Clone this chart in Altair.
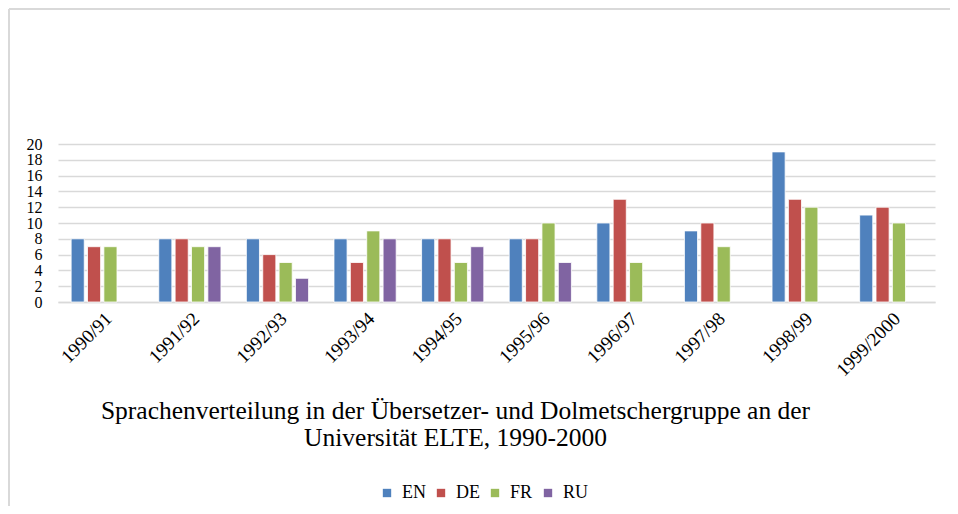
import altair as alt
import pandas as pd

years = ["1990/91", "1991/92", "1992/93", "1993/94", "1994/95",
         "1995/96", "1996/97", "1997/98", "1998/99", "1999/2000"]
languages = ["EN", "DE", "FR", "RU"]
en = [8, 8, 8, 8, 8, 8, 10, 9, 19, 11]
de = [7, 8, 6, 5, 8, 8, 13, 10, 13, 12]
fr = [7, 7, 5, 9, 5, 10, 5, 7, 12, 10]
ru = [None, 7, 3, 8, 7, 5, None, None, None, None]
colors = ["#4F81BD", "#C0504D", "#9BBB59", "#8064A2"]
title_lines = ["Sprachenverteilung in der Übersetzer- und Dolmetschergruppe an der",
               "Universität ELTE, 1990-2000"]

rows = []
for lang, vals in zip(languages, [en, de, fr, ru]):
    for y, v in zip(years, vals):
        if v is not None:
            rows.append({"Jahr": y, "Sprache": lang, "Anzahl": v})
df = pd.DataFrame(rows)

FONT = "Liberation Serif"

bars = alt.Chart(df).mark_bar(stroke="white", strokeWidth=0.8).encode(
    x=alt.X("Jahr:N", sort=years,
            scale=alt.Scale(paddingInner=0.29, paddingOuter=0.15),
            axis=alt.Axis(title=title_lines, labelAngle=-45, labelFont=FONT,
                          labelFontSize=19, labelColor="black", labelPadding=7,
                          labelOverlap=False,
                          ticks=False, domain=True, domainColor="#d9d9d9",
                          domainWidth=1.5,
                          titleFont=FONT, titleFontSize=25.5, titleFontWeight="normal",
                          titleColor="black", titleX=397, titleY=108,
                          titleBaseline="middle", titleLineHeight=27)),
    xOffset=alt.XOffset("Sprache:N", sort=languages,
                        scale=alt.Scale(domain=languages, paddingInner=0.2)),
    y=alt.Y("Anzahl:Q", scale=alt.Scale(domain=[0, 20]),
            axis=alt.Axis(title=None, values=list(range(0, 21, 2)), labelFont=FONT,
                          labelFontSize=16, labelColor="black", labelPadding=16,
                          labelOverlap=False,
                          ticks=False, domain=False, gridColor="#d9d9d9",
                          gridWidth=1.3)),
    color=alt.Color("Sprache:N", sort=languages,
                    scale=alt.Scale(domain=languages, range=colors),
                    legend=alt.Legend(title=None, orient="none", direction="horizontal",
                                      legendX=320, legendY=340,
                                      symbolType="square", symbolSize=70,
                                      symbolStrokeWidth=0, labelFont=FONT,
                                      labelFontSize=18, labelColor="black",
                                      columnPadding=6, labelOffset=6)),
)

frame_left = alt.Chart(df).mark_rule(color="#d9d9d9", strokeWidth=2).encode(
    x=alt.value(-49), y=alt.value(-135), y2=alt.value(368))
frame_top = alt.Chart(df).mark_rule(color="#d9d9d9", strokeWidth=2).encode(
    x=alt.value(-49), x2=alt.value(892), y=alt.value(-135))

chart = alt.layer(frame_left, frame_top, bars).properties(
    width=877, height=158,
    padding={"left": 50, "top": 136, "right": 15, "bottom": 204},
    autosize=alt.AutoSizeParams(type="none"),
).configure_view(stroke=None)

chart.save("out.html", embed_options={"renderer": "svg", "actions": False})
